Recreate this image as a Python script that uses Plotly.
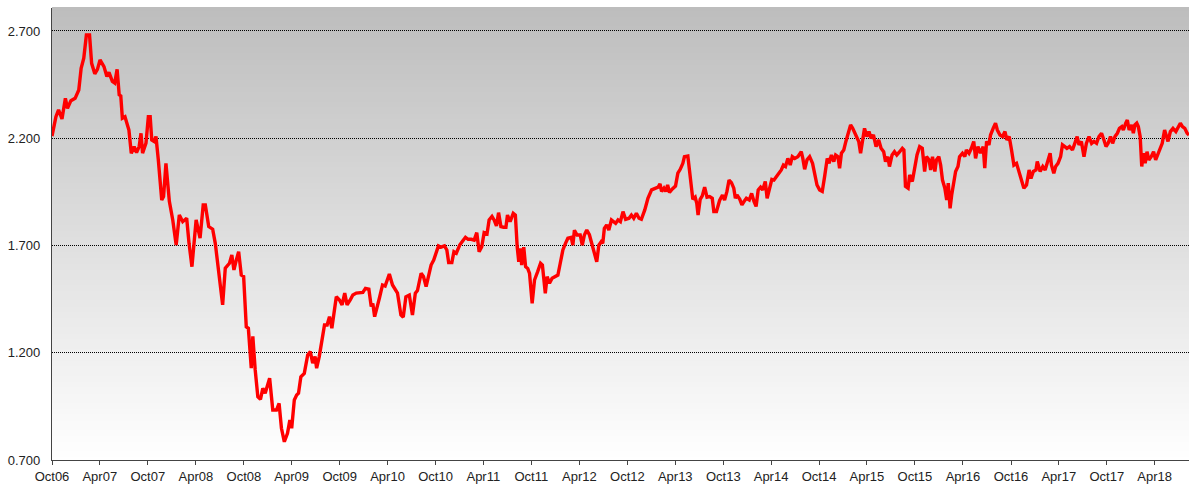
import plotly.graph_objects as go

dates = [
"2006-10-01","2006-10-16","2006-10-26","2006-11-08","2006-11-21","2006-11-29","2006-12-12","2006-12-28",
"2007-01-11","2007-01-20","2007-01-30","2007-02-09","2007-02-21","2007-03-01","2007-03-13","2007-03-23",
"2007-04-02","2007-04-17","2007-04-28","2007-05-06","2007-05-19","2007-05-28","2007-06-06","2007-06-14",
"2007-06-20","2007-06-26","2007-07-06","2007-07-15","2007-07-21","2007-07-30","2007-08-10","2007-08-19",
"2007-08-29","2007-09-05","2007-09-11","2007-09-24","2007-10-03","2007-10-10","2007-10-16","2007-10-25",
"2007-11-01","2007-11-10","2007-11-23","2007-11-30","2007-12-09","2007-12-22","2008-01-04","2008-01-17",
"2008-01-29","2008-02-11","2008-02-26","2008-03-06","2008-03-17","2008-04-02","2008-04-17","2008-04-29",
"2008-05-07","2008-05-20","2008-06-04","2008-06-14","2008-06-29","2008-07-12","2008-07-22","2008-08-07",
"2008-08-16","2008-08-24","2008-09-02","2008-09-11","2008-09-21","2008-09-30","2008-10-10","2008-10-18",
"2008-10-29","2008-11-04","2008-11-13","2008-11-23","2008-12-03","2008-12-12","2008-12-21","2009-01-07",
"2009-01-19","2009-02-02","2009-02-12","2009-02-21","2009-03-04","2009-03-16","2009-03-25","2009-04-01",
"2009-04-11","2009-04-20","2009-04-27","2009-05-06","2009-05-19","2009-06-01","2009-06-11","2009-06-20",
"2009-06-29","2009-07-05","2009-07-15","2009-07-25","2009-08-04","2009-08-14","2009-08-23","2009-09-01",
"2009-09-11","2009-09-18","2009-09-30","2009-10-10","2009-10-20","2009-10-29","2009-11-10","2009-11-20",
"2009-12-03","2009-12-28","2010-01-07","2010-01-20","2010-01-29","2010-02-04","2010-02-11","2010-02-20",
"2010-03-01","2010-03-13","2010-03-23","2010-04-08","2010-04-20","2010-05-09","2010-05-22","2010-05-31",
"2010-06-10","2010-06-23","2010-07-05","2010-07-16","2010-07-24","2010-08-07","2010-08-16","2010-08-26",
"2010-09-05","2010-09-14","2010-09-24","2010-10-03","2010-10-12","2010-10-22","2010-11-04","2010-11-13",
"2010-11-20","2010-12-02","2010-12-10","2010-12-19","2011-01-01","2011-01-13","2011-01-23","2011-02-02",
"2011-02-14","2011-02-25","2011-03-07","2011-03-16","2011-03-26","2011-04-04","2011-04-15","2011-04-23",
"2011-05-04","2011-05-12","2011-05-21","2011-05-29","2011-06-07","2011-06-17","2011-06-26","2011-07-02",
"2011-07-12","2011-07-24","2011-08-01","2011-08-08","2011-08-14","2011-08-20","2011-08-25","2011-09-02",
"2011-09-09","2011-09-17","2011-09-24","2011-10-04","2011-10-13","2011-10-25","2011-11-05","2011-11-12",
"2011-11-23","2011-11-30","2011-12-09","2011-12-19","2011-12-28","2012-01-10","2012-01-19","2012-01-29",
"2012-02-08","2012-02-17","2012-03-01","2012-03-07","2012-03-13","2012-03-23","2012-04-04","2012-04-12",
"2012-04-20","2012-04-29","2012-05-09","2012-05-19","2012-05-28","2012-06-06","2012-06-14","2012-06-23",
"2012-06-29","2012-07-05","2012-07-14","2012-07-22","2012-08-01","2012-08-10","2012-08-17","2012-08-26",
"2012-09-04","2012-09-14","2012-09-24","2012-10-07","2012-10-16","2012-10-25","2012-11-04","2012-11-14",
"2012-11-23","2012-12-06","2012-12-18","2013-01-01","2013-01-13","2013-01-26","2013-02-02","2013-02-08",
"2013-02-17","2013-02-24","2013-03-03","2013-03-10","2013-03-20","2013-04-02","2013-04-11","2013-04-20",
"2013-04-30","2013-05-06","2013-05-19","2013-05-25","2013-06-01","2013-06-07","2013-06-16","2013-06-22",
"2013-06-27","2013-07-05","2013-07-13","2013-07-22","2013-07-31","2013-08-10","2013-08-20","2013-08-26",
"2013-09-05","2013-09-17","2013-09-28","2013-10-06","2013-10-15","2013-10-23","2013-11-01","2013-11-10",
"2013-11-16","2013-11-22","2013-12-03","2013-12-11","2013-12-19","2013-12-28","2014-01-08","2014-01-17",
"2014-01-26","2014-02-03","2014-02-11","2014-02-20","2014-02-28","2014-03-10","2014-03-17","2014-03-26",
"2014-04-04","2014-04-12","2014-04-21","2014-05-01","2014-05-10","2014-05-18","2014-05-26","2014-06-04",
"2014-06-13","2014-06-21","2014-06-30","2014-07-12","2014-07-25","2014-07-31","2014-08-07","2014-08-16",
"2014-08-26","2014-09-06","2014-09-14","2014-09-23","2014-10-03","2014-10-13","2014-10-22","2014-11-01",
"2014-11-08","2014-11-17","2014-11-26","2014-12-03","2014-12-12","2014-12-18","2014-12-25","2015-01-03",
"2015-01-11","2015-01-20","2015-01-29","2015-02-06","2015-02-14","2015-02-22","2015-03-01","2015-03-08",
"2015-03-14","2015-03-23","2015-04-01","2015-04-09","2015-04-17","2015-04-26","2015-05-06","2015-05-16",
"2015-05-25","2015-06-04","2015-06-11","2015-06-20","2015-06-26","2015-07-06","2015-07-15","2015-07-24",
"2015-08-04","2015-08-14","2015-08-20","2015-08-26","2015-09-05","2015-09-11","2015-09-21","2015-09-30",
"2015-10-09","2015-10-19","2015-10-29","2015-11-07","2015-11-14","2015-11-24","2015-11-30","2015-12-07",
"2015-12-16","2015-12-22","2015-12-31","2016-01-07","2016-01-14","2016-01-23","2016-01-30","2016-02-05",
"2016-02-12","2016-02-18","2016-02-27","2016-03-04","2016-03-13","2016-03-19","2016-03-30","2016-04-08",
"2016-04-14","2016-04-24","2016-05-03","2016-05-12","2016-05-19","2016-05-28","2016-06-07","2016-06-17",
"2016-06-23","2016-06-30","2016-07-09","2016-07-15","2016-07-25","2016-08-03","2016-08-10","2016-08-20",
"2016-08-30","2016-09-08","2016-09-15","2016-09-24","2016-10-03","2016-10-12","2016-10-22","2016-11-01",
"2016-11-10","2016-11-19","2016-11-29","2016-12-09","2016-12-16","2016-12-25","2017-01-04","2017-01-09",
"2017-01-20","2017-01-30","2017-02-08","2017-02-17","2017-02-27","2017-03-04","2017-03-13","2017-03-20",
"2017-03-29","2017-04-08","2017-04-15","2017-04-24","2017-05-02","2017-05-12","2017-05-23","2017-06-01",
"2017-06-10","2017-06-17","2017-06-26","2017-07-06","2017-07-15","2017-07-25","2017-08-04","2017-08-13",
"2017-08-23","2017-09-01","2017-09-11","2017-09-20","2017-09-28","2017-10-06","2017-10-15","2017-10-23",
"2017-11-01","2017-11-10","2017-11-18","2017-11-27","2017-12-03","2017-12-12","2017-12-18","2017-12-25",
"2018-01-04","2018-01-10","2018-01-16","2018-01-23","2018-01-29","2018-02-05","2018-02-11","2018-02-17",
"2018-02-24","2018-03-03","2018-03-10","2018-03-19","2018-03-28","2018-04-05","2018-04-14","2018-04-23",
"2018-04-30","2018-05-09","2018-05-16","2018-05-22","2018-05-31","2018-06-10","2018-06-21","2018-06-29",
"2018-07-08","2018-07-16","2018-07-25","2018-08-03","2018-08-10",
]

values = [
2.210,2.300,2.332,2.290,2.386,2.339,2.375,2.386,
2.425,2.526,2.573,2.681,2.681,2.549,2.500,2.521,
2.565,2.534,2.488,2.507,2.465,2.457,2.521,2.402,
2.397,2.293,2.300,2.265,2.238,2.130,2.161,2.133,
2.161,2.223,2.130,2.177,2.300,2.300,2.192,2.185,
2.208,2.099,1.912,1.928,2.083,1.906,1.819,1.702,
1.842,1.811,1.827,1.710,1.601,1.819,1.734,1.889,
1.889,1.788,1.776,1.710,1.547,1.423,1.594,1.617,
1.656,1.586,1.632,1.671,1.562,1.555,1.321,1.314,
1.128,1.276,1.120,0.995,0.983,1.034,1.011,1.081,
0.933,0.933,0.964,0.848,0.785,0.824,0.886,0.848,
0.980,1.003,1.011,1.088,1.104,1.190,1.205,1.151,
1.182,1.128,1.182,1.259,1.329,1.329,1.368,1.314,
1.399,1.461,1.446,1.423,1.478,1.423,1.446,1.469,
1.478,1.481,1.500,1.496,1.415,1.430,1.368,1.407,
1.454,1.516,1.511,1.567,1.516,1.478,1.376,1.366,
1.461,1.469,1.376,1.478,1.490,1.570,1.555,1.508,
1.562,1.609,1.632,1.671,1.698,1.692,1.698,1.679,
1.620,1.620,1.671,1.664,1.702,1.722,1.738,1.729,
1.729,1.725,1.760,1.671,1.694,1.760,1.754,1.819,
1.835,1.819,1.791,1.853,1.788,1.785,1.785,1.842,
1.811,1.850,1.842,1.694,1.624,1.687,1.609,1.692,
1.601,1.593,1.570,1.430,1.539,1.578,1.617,1.609,
1.477,1.555,1.524,1.547,1.555,1.562,1.617,1.679,
1.710,1.734,1.738,1.702,1.771,1.749,1.749,1.702,
1.749,1.772,1.750,1.702,1.671,1.624,1.702,1.718,
1.710,1.780,1.796,1.772,1.819,1.811,1.803,1.819,
1.811,1.858,1.822,1.827,1.842,1.827,1.850,1.827,
1.822,1.866,1.920,1.959,1.967,1.972,1.987,1.952,
1.967,1.952,1.982,1.947,1.962,1.977,2.037,2.055,
2.083,2.114,2.117,2.052,1.959,1.915,1.925,1.897,
1.842,1.915,1.931,1.972,1.925,1.928,1.920,1.858,
1.858,1.910,1.935,1.912,1.952,2.005,1.993,1.967,
1.920,1.935,1.915,1.889,1.905,1.920,1.912,1.943,
1.905,1.882,1.959,1.972,1.959,1.998,1.920,1.960,
2.008,2.005,2.021,2.037,2.052,2.075,2.068,2.106,
2.075,2.114,2.106,2.114,2.137,2.106,2.055,2.099,
2.114,2.083,2.029,1.982,1.959,1.952,2.021,2.106,
2.083,2.122,2.091,2.122,2.114,2.060,2.130,2.145,
2.185,2.231,2.262,2.246,2.223,2.208,2.185,2.130,
2.185,2.246,2.208,2.231,2.200,2.215,2.161,2.192,
2.153,2.137,2.091,2.114,2.068,2.122,2.137,2.122,
2.137,2.153,2.145,1.976,1.967,2.029,1.998,2.068,
2.122,2.161,2.153,2.045,2.114,2.099,2.052,2.114,
2.045,2.099,2.114,2.075,2.005,1.967,1.912,1.991,
1.873,1.935,2.005,2.045,2.068,2.114,2.130,2.114,
2.145,2.130,2.153,2.185,2.106,2.161,2.130,2.161,
2.060,2.185,2.169,2.215,2.246,2.270,2.238,2.215,
2.208,2.231,2.192,2.208,2.145,2.075,2.083,2.045,
2.005,1.967,1.982,2.052,2.013,2.045,2.052,2.091,
2.045,2.068,2.052,2.091,2.130,2.075,2.037,2.068,
2.083,2.114,2.169,2.161,2.153,2.161,2.145,2.176,
2.208,2.169,2.185,2.114,2.176,2.208,2.176,2.185,
2.176,2.208,2.223,2.192,2.161,2.176,2.208,2.176,
2.208,2.223,2.246,2.254,2.238,2.270,2.285,2.238,
2.262,2.223,2.262,2.270,2.254,2.208,2.068,2.130,
2.083,2.137,2.099,2.114,2.137,2.099,2.130,2.161,
2.176,2.238,2.200,2.185,2.231,2.246,2.231,2.246,
2.270,2.254,2.246,2.223,2.215,
]

y_ticks = [0.7, 1.2, 1.7, 2.2, 2.7]
y_range = [0.7, 2.807]
x_range = ["2006-10-01", "2018-08-10"]

fig = go.Figure()
fig.add_trace(go.Scatter(
    x=dates, y=values, mode="lines",
    line=dict(color="#ff0000", width=3.4),
    hoverinfo="x+y", showlegend=False,
))

# vertical grey-to-white gradient background of the plot area
n_bands = 150
shapes = []
for i in range(n_bands):
    g = int(round(255 - (255 - 189) * (i + 0.5) / n_bands))
    shapes.append(dict(
        type="rect", xref="x domain", yref="y domain",
        x0=0, x1=1, y0=i / n_bands, y1=(i + 1) / n_bands + 0.002,
        fillcolor=f"rgb({g},{g},{g})", line=dict(width=0), layer="below",
    ))

fig.update_layout(
    width=1189, height=484,
    margin=dict(l=52, r=0, t=8, b=24),
    paper_bgcolor="white",
    plot_bgcolor="rgba(0,0,0,0)",
    shapes=shapes,
    font=dict(family="Liberation Sans, Arial, Helvetica, sans-serif", size=13, color="#222"),
    showlegend=False,
)
fig.update_xaxes(
    type="date", range=x_range,
    tick0="2006-10-01", dtick="M6", tickformat="%b%y",
    ticks="outside", ticklen=4, tickcolor="#444", tickwidth=1,
    showline=True, linecolor="#444", linewidth=1.2,
    showgrid=False, zeroline=False, automargin=False,
    tickfont=dict(size=13, color="#222"),
)
fig.update_yaxes(
    range=y_range, tickvals=y_ticks, tickformat=".3f",
    showline=True, linecolor="#444", linewidth=1.2,
    showgrid=True, gridcolor="#000", gridwidth=1, griddash="1px,1px",
    zeroline=False, ticks="", ticklabelstandoff=8, automargin=False,
    tickfont=dict(size=13, color="#222"),
)

fig.write_html(
    "out.html",
    config={"displayModeBar": False},
    post_script="document.body.style.margin='0';document.body.style.overflow='hidden';",
)
